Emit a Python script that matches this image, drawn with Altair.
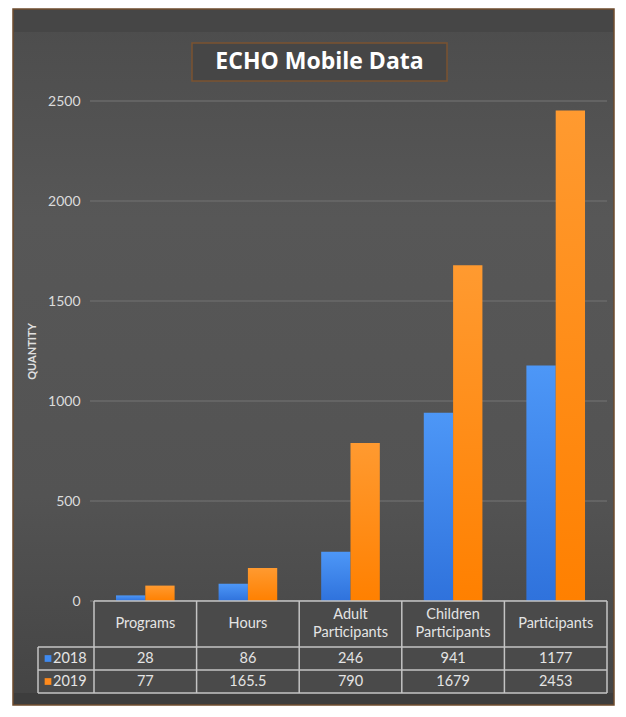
import altair as alt
import pandas as pd

# ---------------- data ----------------
categories = ["Programs", "Hours", "Adult Participants", "Children Participants", "Participants"]
header_labels = ["Programs", "Hours", "Adult\nParticipants", "Children\nParticipants", "Participants"]
years = ["2018", "2019"]
values_2018 = [28, 86, 246, 941, 1177]
values_2019 = [77, 165.5, 790, 1679, 2453]
labels_2018 = ["28", "86", "246", "941", "1177"]
labels_2019 = ["77", "165.5", "790", "1679", "2453"]
y_ticks = [0, 500, 1000, 1500, 2000, 2500]
table_rows = ["h1", "h2", "2018", "2019"]
title_text = "ECHO Mobile Data"
y_title = "QUANTITY"

# ---------------- styling ----------------
BLUE = "#3f8af0"
ORANGE = "#ff8a1c"
TXT = "#e4e4e4"
LINE = "#c4c4c4"
FONT = "Lato"
FS = 14.5
W = 513
H_BARS = 500
H_TABLE = 92
LEFT_COL = -56

bars_df = pd.DataFrame({
    "category": categories * 2,
    "year": ["2018"] * len(categories) + ["2019"] * len(categories),
    "value": values_2018 + values_2019,
    "label": labels_2018 + labels_2019,
})
header_df = pd.DataFrame({"category": categories, "header": header_labels, "row": ["h2"] * len(categories)})
header_df["lines"] = header_df["header"].str.count("\n") + 1
cells_df = pd.DataFrame([(c, r) for r in table_rows for c in categories], columns=["category", "row"])
grid_df = pd.DataFrame({"value": y_ticks})
year_df = pd.DataFrame({"year": years})
blank = pd.DataFrame({"k": [0]})

x_scale = alt.Scale(domain=categories, paddingInner=0, paddingOuter=0)


def x_cat(bp=None):
    kw = {} if bp is None else {"bandPosition": bp}
    return alt.X("category:N", sort=categories, scale=x_scale, axis=None, **kw)


y_axis = alt.Axis(values=y_ticks, format="d", grid=False, ticks=False, domain=False, labelPadding=14,
                  labelColor="#dcdcdc", labelFont=FONT, labelFontSize=14,
                  title=y_title, titleColor="#e0e0e0", titleFont=FONT, titleFontSize=11,
                  titleFontWeight="bold", titlePadding=10, zindex=2)
y_bar = alt.Y("value:Q", scale=alt.Scale(domain=[0, 2500], range=[H_BARS, 0], nice=False), axis=y_axis)

tab_scale = alt.Scale(domain=table_rows, range=[H_BARS, H_BARS + H_TABLE], paddingInner=0, paddingOuter=0)


def y_tab(field, bp=None):
    kw = {} if bp is None else {"bandPosition": bp}
    return alt.Y(f"{field}:N", sort=table_rows, scale=tab_scale, axis=None, **kw)


def vgrad(c1, c2):
    return alt.Gradient(gradient="linear", x1=0, y1=0, x2=0, y2=1,
                        stops=[alt.GradientStop(color=c1, offset=0), alt.GradientStop(color=c2, offset=1)])


bg_grad = alt.Gradient(gradient="linear", x1=0, y1=0, x2=0, y2=1, stops=[
    alt.GradientStop(color="#4c4c4c", offset=0),
    alt.GradientStop(color="#575757", offset=0.3),
    alt.GradientStop(color="#535353", offset=0.7),
    alt.GradientStop(color="#444444", offset=1),
])

# ---------------- decoration ----------------
panel = alt.Chart(blank).mark_rect(fill=bg_grad, stroke="#6d4b2c", strokeWidth=1.5).encode(
    x=alt.value(-81), x2=alt.value(520), y=alt.value(-92), y2=alt.value(604))
top_strip = alt.Chart(blank).mark_rect(fill="#464646").encode(
    x=alt.value(-80), x2=alt.value(519), y=alt.value(-91), y2=alt.value(-69))
bottom_strip = alt.Chart(blank).mark_rect(fill="#3d3d3d").encode(
    x=alt.value(-80), x2=alt.value(519), y=alt.value(H_BARS + H_TABLE), y2=alt.value(603))
title_box = alt.Chart(blank).mark_rect(fill="#464646", stroke="#7b5330", strokeWidth=1.5).encode(
    x=alt.value(98), x2=alt.value(353), y=alt.value(-58), y2=alt.value(-20))
title = alt.Chart(blank).mark_text(text=title_text, font="Open Sans", fontWeight="bold", fontSize=23,
                                   color="white", baseline="middle", align="center").encode(
    x=alt.value(225.5), y=alt.value(-39))

# ---------------- bars ----------------
grid = alt.Chart(grid_df).mark_rule(color="#6a6a6a", strokeWidth=1.5).encode(
    y=y_bar, x=alt.value(-4), x2=alt.value(W))

x_off = alt.XOffset("year:N", scale=alt.Scale(domain=years, paddingInner=0, paddingOuter=0.75))

bars18 = alt.Chart(bars_df).transform_filter(alt.datum.year == "2018").mark_bar(
    color=vgrad("#4d97f7", "#2f72dc")).encode(x=x_cat(), xOffset=x_off, y=y_bar)
bars19 = alt.Chart(bars_df).transform_filter(alt.datum.year == "2019").mark_bar(
    color=vgrad("#ff9a30", "#ff8000")).encode(x=x_cat(), xOffset=x_off, y=y_bar)

bars_layer = alt.layer(grid, bars18, bars19)

# ---------------- table ----------------
cells = alt.Chart(cells_df).mark_rect(fill="#4a4a4a").encode(x=x_cat(), y=y_tab("row"))
left_cells = alt.Chart(year_df).mark_rect(fill="#4a4a4a").encode(
    x=alt.value(LEFT_COL), x2=alt.value(0), y=y_tab("year"))

rule_style = dict(color=LINE, strokeWidth=1.5)
hr_top = alt.Chart(pd.DataFrame({"row": ["h1"]})).mark_rule(**rule_style).encode(
    y=y_tab("row", 0), x=alt.value(0), x2=alt.value(W))
hr_rows = alt.Chart(year_df).mark_rule(**rule_style).encode(
    y=y_tab("year", 0), x=alt.value(LEFT_COL), x2=alt.value(W))
hr_bottom = alt.Chart(pd.DataFrame({"year": [years[-1]]})).mark_rule(**rule_style).encode(
    y=y_tab("year", 1), x=alt.value(LEFT_COL), x2=alt.value(W))
vr = alt.Chart(pd.DataFrame({"category": categories})).mark_rule(**rule_style).encode(
    x=x_cat(0), y=alt.value(H_BARS), y2=alt.value(H_BARS + H_TABLE))
vr_right = alt.Chart(pd.DataFrame({"category": categories[-1:]})).mark_rule(**rule_style).encode(
    x=x_cat(1), y=alt.value(H_BARS), y2=alt.value(H_BARS + H_TABLE))
vr_left = alt.Chart(pd.DataFrame({"year": years[:1]})).mark_rule(**rule_style).encode(
    x=alt.value(LEFT_COL), y=y_tab("year", 0), y2=alt.value(H_BARS + H_TABLE))

header_one = alt.Chart(header_df).transform_filter("datum.lines == 1").mark_text(
    font=FONT, fontSize=FS, color=TXT, baseline="middle").encode(
    x=x_cat(), y=y_tab("row", 0), text="header:N")
header_two = alt.Chart(header_df).transform_filter("datum.lines == 2").mark_text(
    lineBreak="\n", font=FONT, fontSize=FS, color=TXT, baseline="middle", lineHeight=18, dy=-9).encode(
    x=x_cat(), y=y_tab("row", 0), text="header:N")
value_text = alt.Chart(bars_df).mark_text(font=FONT, fontSize=FS, color=TXT, baseline="middle").encode(
    x=x_cat(), y=y_tab("year"), text="label:N")
legend_sq = alt.Chart(year_df).mark_square(size=45, opacity=1).encode(
    x=alt.value(-46), y=y_tab("year"),
    color=alt.Color("year:N", scale=alt.Scale(domain=years, range=[BLUE, ORANGE]), legend=None))
row_labels = alt.Chart(year_df).mark_text(font=FONT, fontSize=FS, color=TXT, align="left",
                                          baseline="middle").encode(
    x=alt.value(-41), y=y_tab("year"), text="year:N")

table_layer = alt.layer(cells, left_cells, hr_top, hr_rows, hr_bottom, vr, vr_right, vr_left,
                        header_one, header_two, value_text, legend_sq, row_labels)

chart = alt.layer(panel, top_strip, bottom_strip, title_box, title, bars_layer, table_layer).resolve_scale(
    y="independent"
).properties(
    width=W, height=H_BARS + H_TABLE,
    autosize=alt.AutoSizeParams(type="none"),
    padding={"left": 86, "top": 93, "right": 11, "bottom": 16},
    background="white",
).configure_view(stroke=None)

chart.save("out.html", embed_options={"renderer": "svg", "actions": False})
